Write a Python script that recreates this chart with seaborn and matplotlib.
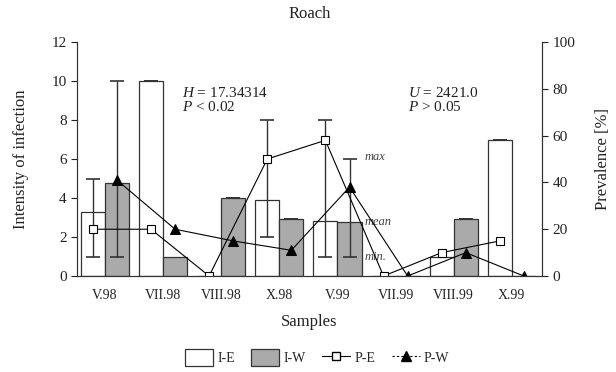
import numpy as np
import pandas as pd
import matplotlib
matplotlib.use("Agg")
import matplotlib.pyplot as plt
from matplotlib.patches import Patch
from matplotlib.lines import Line2D
import seaborn as sns

# data
samples = ["V.98", "VII.98", "VIII.98", "X.98", "V.99", "VII.99", "VIII.99", "X.99"]
intensity_e = [3.3, 10.0, 0.0, 3.9, 2.8, 0.0, 1.0, 7.0]
intensity_w = [4.75, 1.0, 4.0, 2.95, 2.75, 0.0, 2.95, 0.0]
# min / max of intensity (nan = no error bar)
e_min = [1, 10, np.nan, 2, 1, np.nan, np.nan, 7]
e_max = [5, 10, np.nan, 8, 8, np.nan, np.nan, 7]
w_min = [1, np.nan, 4, 2.95, 1, np.nan, 2.95, np.nan]
w_max = [10, np.nan, 4, 2.95, 6, np.nan, 2.95, np.nan]
# prevalence [%]
prev_e = [20, 20, 0, 50, 58, 0, 10, 15]
prev_w = [41, 20, 15, 11, 38, 0, 10, 0]

df = pd.DataFrame({
    "sample": samples * 2,
    "intensity": intensity_e + intensity_w,
    "series": ["I-E"] * len(samples) + ["I-W"] * len(samples),
})

sns.set_style("ticks")
plt.rcParams["font.family"] = ["Liberation Serif", "DejaVu Serif"]
plt.rcParams["mathtext.fontset"] = "custom"
plt.rcParams["mathtext.it"] = "Liberation Serif:italic"
plt.rcParams["mathtext.rm"] = "Liberation Serif"

ink = "#222222"
edge = "#333333"
grey = "#aaaaaa"

fig = plt.figure(figsize=(6.16, 3.72), dpi=100)
ax = fig.add_axes([0.125, 0.258, 0.755, 0.629])

sns.barplot(
    data=df, x="sample", y="intensity", hue="series",
    hue_order=["I-E", "I-W"], order=samples,
    palette={"I-E": "white", "I-W": grey},
    edgecolor=edge, linewidth=0.9, width=0.83, gap=0,
    errorbar=None, legend=False, ax=ax,
)

# bar centres from the drawn bars
cx_e = np.array([p.get_x() + p.get_width() / 2 for p in ax.containers[0]])
cx_w = np.array([p.get_x() + p.get_width() / 2 for p in ax.containers[1]])

# min-max error bars
for cx, val, lo, hi in [(cx_e, intensity_e, e_min, e_max), (cx_w, intensity_w, w_min, w_max)]:
    val = np.array(val); lo = np.array(lo); hi = np.array(hi)
    m = ~np.isnan(lo)
    ax.errorbar(cx[m], val[m], yerr=[val[m] - lo[m], hi[m] - val[m]],
                fmt="none", ecolor=edge, elinewidth=1.0, capsize=5, capthick=1.2)

ax.set_ylim(0, 12)
ax.set_yticks(range(0, 13, 2))
ax.set_xlabel("Samples", fontsize=12, color=ink, labelpad=9)
ax.set_ylabel("Intensity of infection", fontsize=12, color=ink, labelpad=16)
ax.tick_params(axis="x", length=0, pad=9, labelsize=10, colors=ink)
ax.tick_params(axis="y", length=4, width=0.8, labelsize=11, colors=ink)
ax.set_title("Roach", fontsize=12, color=ink, pad=17)

# prevalence on the right axis
ax2 = ax.twinx()
sns.lineplot(x=cx_e, y=prev_e, ax=ax2, color="black", linewidth=0.8,
             marker="s", markersize=6, markerfacecolor="white",
             markeredgecolor="black", markeredgewidth=0.8)
sns.lineplot(x=cx_w, y=prev_w, ax=ax2, color="black", linewidth=0.8,
             marker="^", markersize=7.5, markerfacecolor="black",
             markeredgecolor="black")
ax2.set_ylim(0, 100)
ax2.set_yticks(range(0, 101, 20))
ax2.set_ylabel("Prevalence [%]", fontsize=12, color=ink, labelpad=14)
ax2.tick_params(axis="y", length=4, width=0.8, labelsize=11, colors=ink)
ax.set_xlim(-0.48, 7.52)

for a in (ax, ax2):
    a.spines["top"].set_visible(False)
    for s in a.spines.values():
        s.set_linewidth(0.8)
        s.set_color(edge)

# statistics text
ax.text(1.33, 9.2, r"$H$ = 17.34314", fontsize=11, color=ink, va="baseline")
ax.text(1.33, 8.45, r"$P$ < 0.02", fontsize=11, color=ink, va="baseline")
ax.text(5.21, 9.2, r"$U$ = 2421.0", fontsize=11, color=ink, va="baseline")
ax.text(5.21, 8.45, r"$P$ > 0.05", fontsize=11, color=ink, va="baseline")

# error-bar key
ax.text(4.47, 6.1, "max", fontsize=9, style="italic", color="#444444", va="center")
ax.text(4.47, 2.77, "mean", fontsize=9, style="italic", color="#444444", va="center")
ax.text(4.47, 0.97, "min.", fontsize=9, style="italic", color="#444444", va="center")

handles = [
    Patch(facecolor="white", edgecolor=edge, linewidth=0.9),
    Patch(facecolor=grey, edgecolor=edge, linewidth=0.9),
    Line2D([], [], color="black", lw=0.8, marker="s", ms=6, mfc="white", mec="black"),
    Line2D([], [], color="black", lw=0.8, ls=(0, (2, 2)), marker="^", ms=7.5),
]
fig.legend(handles, ["I-E", "I-W", "P-E", "P-W"], loc="center",
           bbox_to_anchor=(0.515, 0.038), ncol=4, frameon=False,
           fontsize=10, handlelength=2.0, handleheight=1.5,
           handletextpad=0.3, columnspacing=1.2)

fig.savefig("out.png", dpi=100)
